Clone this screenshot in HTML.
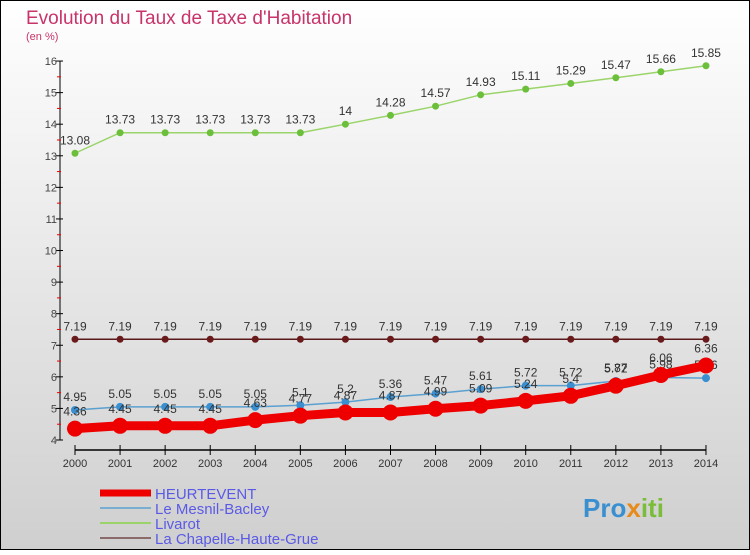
<!DOCTYPE html><html><head><meta charset="utf-8"><style>body{margin:0}svg text{font-family:"Liberation Sans",sans-serif}</style></head><body>
<svg id="c" width="750" height="550" xmlns="http://www.w3.org/2000/svg">
<defs><linearGradient id="bg" x1="0" y1="0" x2="0" y2="1"><stop offset="0" stop-color="#ffffff"/><stop offset="1" stop-color="#cfcfcf"/></linearGradient></defs>
<rect x="0.5" y="0.5" width="749" height="549" fill="url(#bg)" stroke="#000"/>
<text x="26" y="24" font-size="19" fill="#c8336a">Evolution du Taux de Taxe d'Habitation</text>
<text x="26" y="40" font-size="11" fill="#c8336a">(en %)</text>
<g id="axes"></g><g id="series"></g><g id="legend"></g>
<text x="583" y="517" font-size="26" font-weight="bold" fill="#3a8fd0">Pro<tspan fill="#e88a1a">x</tspan><tspan fill="#7bbd3a">iti</tspan></text>
</svg>
<script>
const years=[2000,2001,2002,2003,2004,2005,2006,2007,2008,2009,2010,2011,2012,2013,2014];
const heurtevent=[4.36,4.45,4.45,4.45,4.63,4.77,4.87,4.87,4.99,5.09,5.24,5.4,5.72,6.06,6.36];
const mesnil=[4.95,5.05,5.05,5.05,5.05,5.1,5.2,5.36,5.47,5.61,5.72,5.72,5.87,5.98,5.96];
const livarot=[13.08,13.73,13.73,13.73,13.73,13.73,14,14.28,14.57,14.93,15.11,15.29,15.47,15.66,15.85];
const chapelle=[7.19,7.19,7.19,7.19,7.19,7.19,7.19,7.19,7.19,7.19,7.19,7.19,7.19,7.19,7.19];
const yTicks=[4,5,6,7,8,9,10,11,12,13,14,15,16];
const NS="http://www.w3.org/2000/svg";
const X=i=>75+i*45.07, Y=v=>440-(v-4)*31.58;
function mk(t,a,p){const e=document.createElementNS(NS,t);for(const k in a)e.setAttribute(k,a[k]);p.appendChild(e);return e;}
const ax=document.getElementById('axes');
let l=mk('line',{x1:60,y1:Y(16),x2:60,y2:Y(4),stroke:'#000'},ax);


yTicks.forEach(v=>{mk('line',{x1:56,y1:Y(v),x2:63,y2:Y(v),stroke:'#000'},ax);
 if(v<16)mk('line',{x1:57,y1:Y(v+0.5),x2:61,y2:Y(v+0.5),stroke:'#e00'},ax);
 const t=mk('text',{x:57,y:Y(v)+4,'font-size':11,fill:'#444','text-anchor':'end'},ax);t.textContent=v;
 
 });
l=mk('line',{x1:75,y1:450,x2:X(14),y2:450,stroke:'#000','stroke-width':1.5},ax);


years.forEach((y,i)=>{mk('line',{x1:X(i),y1:445,x2:X(i),y2:455,stroke:'#000'},ax);
 const t=mk('text',{x:X(i),y:467,'font-size':11,fill:'#333','text-anchor':'middle'},ax);t.textContent=y;
 
 });
const sg=document.getElementById('series');
function series(vals,name,col,w,r,ptcol,lblOff){
 const g=mk('g',{},sg);
 
 
 mk('polyline',{points:vals.map((v,i)=>X(i)+','+Y(v)).join(' '),fill:'none',stroke:col,'stroke-width':w,'stroke-linejoin':'round'},g);
 vals.forEach((v,i)=>{const c=mk('circle',{cx:X(i),cy:Y(v),r:r,fill:ptcol},g);
  
  
  const t=mk('text',{x:X(i),y:Y(v)+lblOff,'font-size':12,fill:'#333','text-anchor':'middle'},g);t.textContent=v;
  
  });
}
series(livarot,'livarot','#9ad46a',1.5,3.5,'#6cbf3a',-9);
series(chapelle,'la-chapelle-haute-grue','#5a1a1a',1.5,3.5,'#6a1a1a',-9);
series(mesnil,'le-mesnil-bacley','#5aa0d0',1.5,4,'#3a8fd0',-9);
series(heurtevent,'heurtevent','#ee0000',9,8,'#ee0000',-13);
const lg=document.getElementById('legend');
[['HEURTEVENT','#ee0000',7],['Le Mesnil-Bacley','#7aaed0',2],['Livarot','#9ad46a',2],['La Chapelle-Haute-Grue','#8a6a6a',2]].forEach((d,i)=>{
 const y=493+i*15;
 const g=mk('g',{},lg);
 
 
 mk('line',{x1:100,y1:y,x2:151,y2:y,stroke:d[1],'stroke-width':d[2]},g);
 const t=mk('text',{x:155,y:y+6,'font-size':15,fill:'#5a5ae6'},g);t.textContent=d[0];
});
</script></body></html>
